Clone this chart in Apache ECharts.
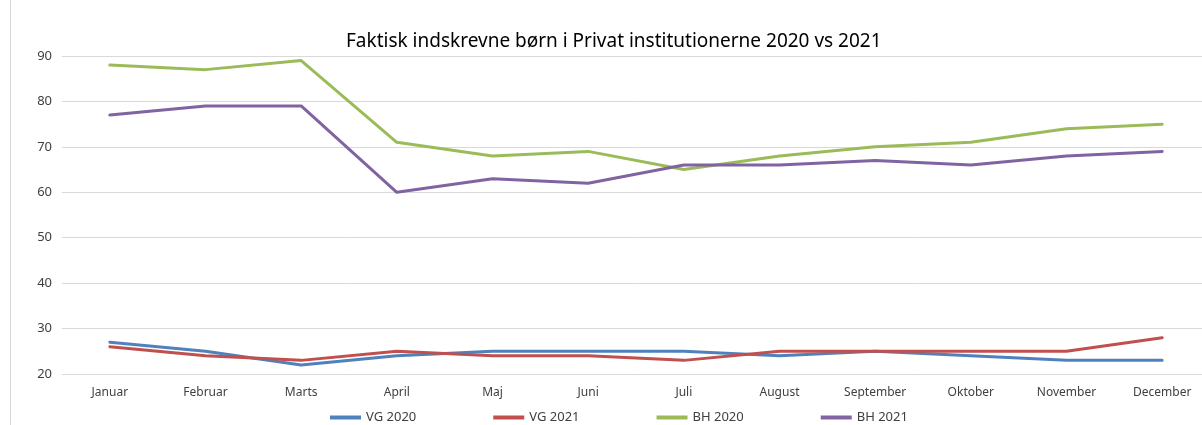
<!DOCTYPE html>
<html><head><meta charset="utf-8">
<script src="https://cdn.jsdelivr.net/npm/echarts@6/dist/echarts.min.js"></script>
<style>html,body{margin:0;padding:0;background:#fff}#c{width:1202px;height:425px}</style>
</head><body><div id="c"></div>
<script>
var months = ['Januar','Februar','Marts','April','Maj','Juni','Juli','August','September','Oktober','November','December'];
var vg2020 = [27,25,22,24,25,25,25,24,25,24,23,23];
var vg2021 = [26,24,23,25,24,24,23,25,25,25,25,28];
var bh2020 = [88,87,89,71,68,69,65,68,70,71,74,75];
var bh2021 = [77,79,79,60,63,62,66,66,67,66,68,69];
var yTicks = {min:20, max:90, interval:10};

var font = 'Noto Sans';
function ser(name, data, color){
  return {name:name, type:'line', data:data, symbol:'none', smooth:false,
    lineStyle:{width:3, color:color, cap:'round', join:'round'}, itemStyle:{color:color}};
}
var chart = echarts.init(document.getElementById('c'));
chart.setOption({
  animation:false,
  title:{text:'Faktisk indskrevne børn i Privat institutionerne 2020 vs 2021', left:341, top:27,
    textStyle:{fontFamily:font, fontSize:19, fontWeight:'normal', color:'#000'}},
  grid:{left:62, width:1148, top:56, bottom:51, outerBoundsMode:'none', containLabel:false},
  legend:{top:406, left:325, itemWidth:31, itemHeight:4, itemGap:77, icon:'rect',
    textStyle:{fontFamily:font, fontSize:13, color:'#404040'},
    data:['VG 2020','VG 2021','BH 2020','BH 2021']},
  xAxis:{type:'category', data:months, boundaryGap:true,
    axisLine:{show:false}, axisTick:{show:false},
    axisLabel:{fontFamily:font, fontSize:12, color:'#404040', margin:13}},
  yAxis:{type:'value', min:yTicks.min, max:yTicks.max, interval:yTicks.interval,
    axisLine:{show:false}, axisTick:{show:false},
    axisLabel:{fontFamily:font, fontSize:13, color:'#404040', margin:10},
    splitLine:{lineStyle:{color:'#d9d9d9', width:1}}},
  graphic:[{type:'line', shape:{x1:10.5,y1:0,x2:10.5,y2:425}, style:{stroke:'#d9d9d9', lineWidth:1}}],
  series:[ser('VG 2020', vg2020, '#4F81BD'), ser('VG 2021', vg2021, '#C0504D'),
          ser('BH 2020', bh2020, '#9BBB59'), ser('BH 2021', bh2021, '#8064A2')]
});
</script></body></html>
